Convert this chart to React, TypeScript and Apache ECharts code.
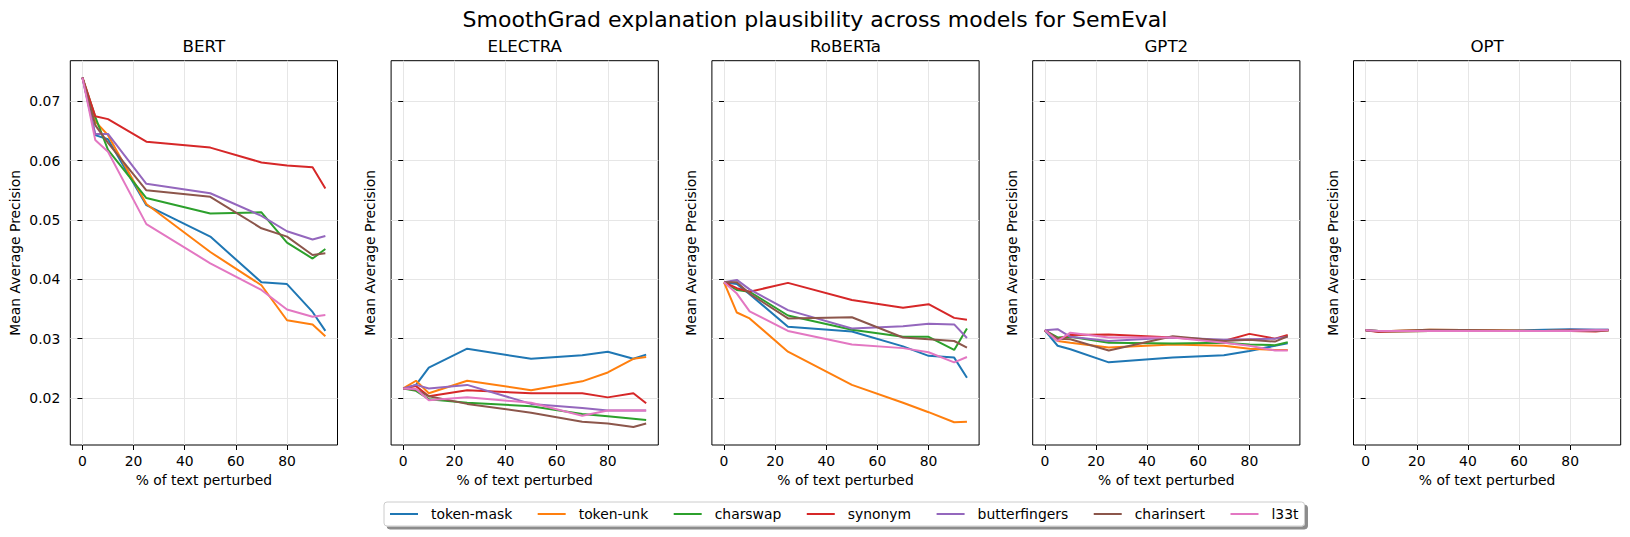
import React, { useEffect, useRef } from "react";
import * as echarts from "echarts";

const FONT = "DejaVu Sans";

const MODELS = ["BERT", "ELECTRA", "RoBERTa", "GPT2", "OPT"];
const METHODS = ["token-mask", "token-unk", "charswap", "synonym", "butterfingers", "charinsert", "l33t"];
const COLORS = ["#1f77b4", "#ff7f0e", "#2ca02c", "#d62728", "#9467bd", "#8c564b", "#e377c2"];
const X_VALUES = [0, 5, 10, 25, 50, 70, 80, 90, 95];
const X_TICKS = [0, 20, 40, 60, 80];
const Y_TICKS = [0.02, 0.03, 0.04, 0.05, 0.06, 0.07];

// values per method, in METHODS order, for each model
const BERT = [
  [0.0740, 0.0643, 0.0636, 0.0525, 0.0472, 0.0395, 0.0392, 0.0345, 0.0313],
  [0.0740, 0.0666, 0.0643, 0.0527, 0.0446, 0.0390, 0.0331, 0.0324, 0.0304],
  [0.0740, 0.0674, 0.0618, 0.0537, 0.0511, 0.0513, 0.0462, 0.0435, 0.0451],
  [0.0740, 0.0675, 0.0670, 0.0632, 0.0622, 0.0597, 0.0592, 0.0589, 0.0553],
  [0.0740, 0.0645, 0.0645, 0.0561, 0.0545, 0.0507, 0.0481, 0.0467, 0.0473],
  [0.0740, 0.0660, 0.0630, 0.0550, 0.0539, 0.0486, 0.0472, 0.0441, 0.0444],
  [0.0740, 0.0635, 0.0615, 0.0493, 0.0427, 0.0382, 0.0349, 0.0337, 0.0340],
];
const ELECTRA = [
  [0.0216, 0.0222, 0.0251, 0.0283, 0.0266, 0.0272, 0.0278, 0.0266, 0.0273],
  [0.0216, 0.0229, 0.0208, 0.0229, 0.0213, 0.0228, 0.0243, 0.0266, 0.0269],
  [0.0216, 0.0212, 0.0198, 0.0192, 0.0186, 0.0173, 0.0169, 0.0165, 0.0163],
  [0.0216, 0.0220, 0.0203, 0.0213, 0.0208, 0.0208, 0.0201, 0.0208, 0.0191],
  [0.0216, 0.0222, 0.0216, 0.0222, 0.0190, 0.0183, 0.0179, 0.0179, 0.0179],
  [0.0216, 0.0214, 0.0203, 0.0190, 0.0175, 0.0160, 0.0157, 0.0151, 0.0157],
  [0.0216, 0.0215, 0.0196, 0.0201, 0.0192, 0.0170, 0.0179, 0.0179, 0.0179],
];
const ROBERTA = [
  [0.0395, 0.0392, 0.0375, 0.0320, 0.0312, 0.0287, 0.0271, 0.0268, 0.0234],
  [0.0395, 0.0344, 0.0334, 0.0278, 0.0222, 0.0192, 0.0176, 0.0159, 0.0160],
  [0.0395, 0.0382, 0.0379, 0.0339, 0.0315, 0.0303, 0.0303, 0.0281, 0.0317],
  [0.0395, 0.0385, 0.0379, 0.0394, 0.0365, 0.0352, 0.0358, 0.0335, 0.0332],
  [0.0395, 0.0399, 0.0383, 0.0348, 0.0317, 0.0321, 0.0325, 0.0324, 0.0301],
  [0.0395, 0.0395, 0.0376, 0.0334, 0.0336, 0.0302, 0.0299, 0.0296, 0.0285],
  [0.0395, 0.0376, 0.0346, 0.0313, 0.0290, 0.0284, 0.0277, 0.0260, 0.0269],
];
const GPT2 = [
  [0.0314, 0.0288, 0.0282, 0.0260, 0.0268, 0.0272, 0.0279, 0.0288, 0.0292],
  [0.0314, 0.0296, 0.0293, 0.0285, 0.0290, 0.0288, 0.0283, 0.0281, 0.0281],
  [0.0314, 0.0302, 0.0303, 0.0293, 0.0292, 0.0293, 0.0290, 0.0289, 0.0294],
  [0.0314, 0.0299, 0.0306, 0.0307, 0.0302, 0.0296, 0.0308, 0.0300, 0.0306],
  [0.0314, 0.0316, 0.0303, 0.0296, 0.0302, 0.0298, 0.0299, 0.0300, 0.0303],
  [0.0314, 0.0300, 0.0299, 0.0280, 0.0304, 0.0296, 0.0298, 0.0295, 0.0304],
  [0.0314, 0.0296, 0.0310, 0.0302, 0.0302, 0.0293, 0.0288, 0.0280, 0.0280],
];
const OPT = [
  [0.0314, 0.0313, 0.0313, 0.0313, 0.0313, 0.0315, 0.0316, 0.0315, 0.0315],
  [0.0314, 0.0313, 0.0313, 0.0315, 0.0314, 0.0313, 0.0314, 0.0314, 0.0314],
  [0.0314, 0.0313, 0.0312, 0.0313, 0.0313, 0.0313, 0.0314, 0.0314, 0.0314],
  [0.0314, 0.0311, 0.0312, 0.0313, 0.0313, 0.0313, 0.0313, 0.0312, 0.0314],
  [0.0314, 0.0313, 0.0313, 0.0313, 0.0313, 0.0313, 0.0315, 0.0315, 0.0315],
  [0.0314, 0.0312, 0.0313, 0.0315, 0.0314, 0.0313, 0.0314, 0.0313, 0.0314],
  [0.0314, 0.0313, 0.0313, 0.0313, 0.0313, 0.0313, 0.0313, 0.0314, 0.0314],
];
const MODEL_DATA = [BERT, ELECTRA, ROBERTA, GPT2, OPT];

const GRID_LEFTS = [70.3, 391.1, 711.9, 1032.7, 1353.5];
const GRID_W = 267.2;
const GRID_TOP = 60.7;
const GRID_H = 384.3;

export default function App() {
  const ref = useRef<HTMLDivElement>(null);
  useEffect(() => {
    if (!ref.current) return;
    const chart = echarts.init(ref.current, undefined, { renderer: "svg" });
    const textBase = { fontFamily: FONT, color: "#000" };
    const titles: any[] = [
      {
        text: "SmoothGrad explanation plausibility across models for SemEval",
        left: 815,
        top: 8,
        padding: 0,
        textAlign: "center",
        textStyle: { ...textBase, fontSize: 22, fontWeight: "normal" },
      },
    ];
    const grids: any[] = [];
    const xAxes: any[] = [];
    const yAxes: any[] = [];
    const series: any[] = [];
    MODELS.forEach((m, i) => {
      titles.push({
        text: m,
        left: GRID_LEFTS[i] + GRID_W / 2,
        top: 37,
        padding: 0,
        textAlign: "center",
        textStyle: { ...textBase, fontSize: 16.7, fontWeight: "normal" },
      });
      grids.push({
        left: GRID_LEFTS[i],
        top: GRID_TOP,
        width: GRID_W,
        height: GRID_H,
        show: true,
        borderColor: "#000",
        borderWidth: 1,
        backgroundColor: "transparent",
      });
      xAxes.push({
        gridIndex: i,
        type: "value",
        min: -4.75,
        max: 99.75,
        axisLine: { show: false },
        axisTick: { show: true, customValues: X_TICKS, length: 5, lineStyle: { color: "#000", width: 1 } },
        axisLabel: { customValues: X_TICKS, margin: 9, fontSize: 13.9, ...textBase },
        splitLine: { show: true, lineStyle: { color: "#e6e6e6", width: 1 } },
        name: "% of text perturbed",
        nameLocation: "middle",
        nameGap: 28,
        nameTextStyle: { fontSize: 13.9, ...textBase },
      });
      yAxes.push({
        gridIndex: i,
        type: "value",
        min: 0.01207,
        max: 0.07685,
        axisLine: { show: false },
        axisTick: { show: true, customValues: Y_TICKS, length: 5, lineStyle: { color: "#000", width: 1 } },
        axisLabel: {
          show: i === 0,
          customValues: Y_TICKS,
          margin: 10,
          fontSize: 13.9,
          ...textBase,
          formatter: (v: number) => v.toFixed(2),
        },
        splitLine: { show: true, lineStyle: { color: "#e6e6e6", width: 1 } },
        name: "Mean Average Precision",
        nameLocation: "middle",
        nameRotate: 90,
        nameGap: i === 0 ? 48 : 14,
        nameTextStyle: { fontSize: 13.9, ...textBase },
      });
      METHODS.forEach((meth, k) => {
        const vals = MODEL_DATA[i][k];
        series.push({
          type: "line",
          name: meth,
          xAxisIndex: i,
          yAxisIndex: i,
          data: X_VALUES.map((xv, j) => [xv, vals[j]]),
          symbol: "none",
          showSymbol: false,
          silent: true,
          lineStyle: { width: 2, color: COLORS[k] },
          itemStyle: { color: COLORS[k] },
        });
      });
    });
    chart.setOption({
      animation: false,
      backgroundColor: "#fff",
      title: titles,
      grid: grids,
      xAxis: xAxes,
      yAxis: yAxes,
      series,
      legend: {
        data: METHODS,
        left: 384,
        top: 502,
        icon: "rect",
        itemWidth: 28,
        itemHeight: 2,
        itemGap: 25.5,
        padding: [5, 6],
        textStyle: { fontSize: 13.9, ...textBase, padding: [0, 0, 0, 8] },
        backgroundColor: "#fff",
        borderColor: "#cccccc",
        borderWidth: 1,
        borderRadius: 3,
        shadowColor: "rgba(0,0,0,0.45)",
        shadowBlur: 1,
        shadowOffsetX: 3,
        shadowOffsetY: 3,
        selectedMode: false,
      },
    });
    return () => chart.dispose();
  }, []);
  return (
    <div
      ref={ref}
      style={{ position: "fixed", left: 0, top: 0, width: 1630, height: 537, background: "#fff" }}
    />
  );
}
